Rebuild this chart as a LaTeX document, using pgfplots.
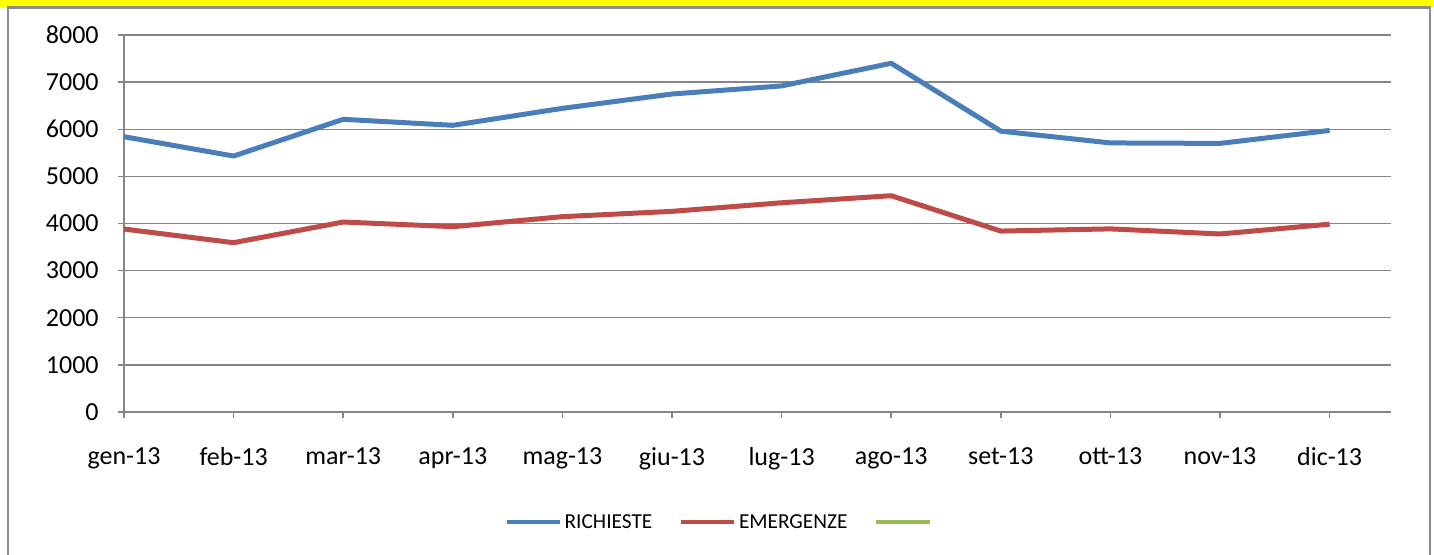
\documentclass[border=0pt]{standalone}
\usepackage{fontspec}
\setmainfont{Carlito}
\usepackage{pgfplots}
\pgfplotsset{compat=1.18}
\definecolor{xblue}{HTML}{4A7EBB}
\definecolor{xred}{HTML}{BE4B48}
\definecolor{xgreen}{HTML}{98B954}
\definecolor{gridgray}{HTML}{868686}
\definecolor{framegray}{HTML}{8C8C8C}
\definecolor{xyellow}{HTML}{FFFF00}
\begin{document}
\begin{tikzpicture}
\path[use as bounding box] (0pt,0pt) rectangle (1075.5pt,-415.5pt);
\fill[xyellow] (0pt,0pt) rectangle (1075.5pt,-5pt);
\draw[framegray, line width=1.8pt] (6pt,-420pt) -- (6pt,-5.6pt) -- (1072.5pt,-5.6pt) -- (1072.5pt,-420pt);
\begin{axis}[
  at={(93pt,-309pt)}, anchor=south west,
  scale only axis, width=950.25pt, height=282.75pt,
  xmin=0, xmax=11.56, ymin=0, ymax=8000,
  xtick={0,...,11},
  xticklabels={gen-13,feb-13,mar-13,apr-13,mag-13,giu-13,lug-13,ago-13,set-13,ott-13,nov-13,dic-13},
  ytick={0,1000,...,8000},
  scaled y ticks=false,
  /pgf/number format/1000 sep={},
  /pgf/number format/assume math mode=true,
  axis x line*=bottom, axis y line*=left,
  axis line style={draw=gridgray, line width=1.1pt, -},
  ymajorgrids, grid style={gridgray, line width=1.1pt},
  tick align=outside, major tick length=4.5pt,
  tick style={gridgray, line width=1.1pt},
  ticklabel style={font=\fontsize{19.5}{19.5}\selectfont, text=black},
  xticklabel style={yshift=-18.5pt},
  yticklabel style={xshift=-11pt},
  clip=false,
  legend style={at={(rel axis cs:0.471,-0.292)}, anchor=center, draw=none, fill=none,
    legend columns=3, font=\fontsize{16}{16}\selectfont,
    /tikz/every even column/.append style={column sep=18pt}},
  legend image code/.code={\draw[#1,line width=3pt] (0pt,0pt) -- (40pt,0pt);},
]
\addplot[xblue, line width=3.75pt, line join=round] coordinates {
(0,5842) (1,5432) (2,6211) (3,6084) (4,6444) (5,6748) (6,6920) (7,7400) (8,5960) (9,5710) (10,5700) (11,5975)};
\addlegendentry{RICHIESTE}
\addplot[xred, line width=3.75pt, line join=round] coordinates {
(0,3883) (1,3593) (2,4032) (3,3933) (4,4145) (5,4258) (6,4440) (7,4590) (8,3840) (9,3886) (10,3778) (11,3986)};
\addlegendentry{EMERGENZE}
\addlegendimage{xgreen, line width=3pt}
\addlegendentry{}
\end{axis}
\end{tikzpicture}
\end{document}
